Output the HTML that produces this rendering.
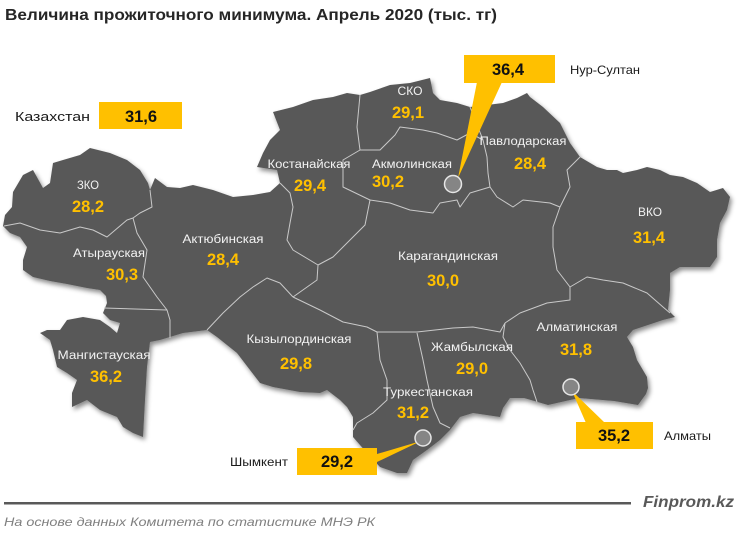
<!DOCTYPE html>
<html>
<head>
<meta charset="utf-8">
<style>
  html,body{margin:0;padding:0;background:#fff;}
  svg{display:block;}
</style>
</head>
<body>
<svg width="740" height="535" viewBox="0 0 740 535" xmlns="http://www.w3.org/2000/svg">
  <defs>
    <filter id="sh" x="-5%" y="-5%" width="115%" height="115%">
      <feDropShadow dx="2" dy="3" stdDeviation="2.5" flood-color="#000" flood-opacity="0.45"/>
    </filter>
  </defs>
  <rect width="740" height="535" fill="#fff"/>

  <!-- Title -->
  <text x="5" y="20" font-family="Liberation Sans, sans-serif" font-weight="bold" font-size="15.5" fill="#262626" textLength="492" lengthAdjust="spacingAndGlyphs">Величина прожиточного минимума. Апрель 2020  (тыс. тг)</text>

  <!-- Map -->
  <path filter="url(#sh)" fill="#585858" d="M90,148 L110,153 L127,160 L140,170 L148,183 L150,190 L155,178 L167,187 L180,188 L193,185 L213,190 L233,197 L253,195 L270,192 L280,183 L277,170 L257,167 L263,153 L270,140 L280,130 L273,112 L293,107 L313,100 L333,97 L347,93 L360,95 L370,92 L390,85 L410,83 L430,78 L433,93 L440,100 L457,103 L470,107 L487,105 L503,103 L517,98 L527,93 L530,97 L543,107 L560,123 L570,143 L580,157 L597,167 L607,170 L617,170 L623,173 L637,170 L647,167 L660,170 L670,175 L683,177 L697,183 L710,192 L723,188 L730,197 L727,210 L720,223 L717,240 L717,257 L710,267 L680,267 L670,273 L670,290 L668,310 L675,317 L663,320 L633,330 L627,337 L633,347 L637,360 L647,377 L648,388 L646,394 L638,405 L614,401 L579,398 L548,405 L524,398 L510,398 L503,408 L500,417 L473,413 L460,417 L450,430 L440,440 L427,450 L413,460 L407,473 L397,473 L380,467 L367,453 L353,437 L353,417 L347,407 L340,400 L327,390 L320,393 L300,392 L273,387 L260,383 L250,370 L237,353 L217,337 L207,330 L183,333 L160,340 L150,342 L147,367 L145,400 L143,437 L133,433 L123,427 L117,417 L100,410 L87,400 L72,407 L72,393 L77,380 L67,373 L57,367 L53,350 L50,340 L40,333 L47,330 L60,330 L67,320 L83,317 L100,320 L110,327 L117,333 L120,323 L110,320 L103,313 L107,303 L106,296 L100,290 L87,288 L67,284 L50,281 L33,277 L23,270 L23,260 L27,247 L20,237 L10,233 L3,226 L5,215 L12,207 L13,192 L23,175 L33,170 L43,188 L50,183 L53,163 L63,160 L80,155 Z"/>

  <!-- Region borders -->
  <g fill="none" stroke="#c9c9c9" stroke-width="1" stroke-linejoin="round">
    <polyline points="4,226 20,223 40,230 60,233 80,227 93,230 107,237 127,220 133,218"/>
    <polyline points="150,190 152,207 140,213 133,218"/>
    <polyline points="133,218 137,233 147,250 143,277 157,297 167,310 170,320 170,338"/>
    <polyline points="104,308 167,310"/>
    <polyline points="207,330 223,313 240,297 253,287 267,278 280,283 293,297"/>
    <polyline points="280,183 290,193 293,207 290,223 287,240 293,250 318,265"/>
    <polyline points="318,265 317,280 293,297"/>
    <polyline points="370,200 365,225 333,257 318,265"/>
    <polyline points="360,95 357,127 360,150 343,160 343,187 370,200"/>
    <polyline points="360,150 380,150 395,135 400,127 423,130 437,133 457,140 470,133 483,140"/>
    <polyline points="470,107 476,122 483,140"/>
    <polyline points="370,200 390,203 410,210 433,213 440,203 457,200 460,207 470,193 490,187"/>
    <polyline points="483,140 487,157 488,173 490,187"/>
    <polyline points="490,187 497,197 513,207 523,200 550,203 560,207"/>
    <polyline points="560,207 570,187 567,170 580,157"/>
    <polyline points="560,207 553,227 553,247 557,270 570,287"/>
    <polyline points="570,287 587,277 603,280 623,283 647,293 663,307 670,313"/>
    <polyline points="570,287 570,300 547,303 520,313 505,323"/>
    <polyline points="293,297 320,310 343,322 367,327 377,332 417,332 453,328 473,327 500,332 505,323"/>
    <polyline points="377,332 380,360 387,380 387,400 373,413 357,423 353,430"/>
    <polyline points="417,333 423,360 427,380 433,407 440,423 450,428"/>
    <polyline points="505,323 503,337 510,350 520,363 530,380 533,390 537,402"/>
  </g>

  <!-- Region names -->
  <g font-family="Liberation Sans, sans-serif" font-size="11.5" fill="#f2f2f2" text-anchor="middle">
    <text x="88" y="189" textLength="22" lengthAdjust="spacingAndGlyphs">ЗКО</text>
    <text x="109" y="257" textLength="72" lengthAdjust="spacingAndGlyphs">Атырауская</text>
    <text x="223" y="243" textLength="81" lengthAdjust="spacingAndGlyphs">Актюбинская</text>
    <text x="309" y="168" textLength="83" lengthAdjust="spacingAndGlyphs">Костанайская</text>
    <text x="410" y="95" textLength="25" lengthAdjust="spacingAndGlyphs">СКО</text>
    <text x="412" y="168" textLength="80" lengthAdjust="spacingAndGlyphs">Акмолинская</text>
    <text x="523" y="145" textLength="87" lengthAdjust="spacingAndGlyphs">Павлодарская</text>
    <text x="650" y="216" textLength="24" lengthAdjust="spacingAndGlyphs">ВКО</text>
    <text x="448" y="260" textLength="100" lengthAdjust="spacingAndGlyphs">Карагандинская</text>
    <text x="577" y="331" textLength="81" lengthAdjust="spacingAndGlyphs">Алматинская</text>
    <text x="472" y="351" textLength="82" lengthAdjust="spacingAndGlyphs">Жамбылская</text>
    <text x="299" y="343" textLength="105" lengthAdjust="spacingAndGlyphs">Кызылординская</text>
    <text x="428" y="396" textLength="90" lengthAdjust="spacingAndGlyphs">Туркестанская</text>
    <text x="104" y="359" textLength="93" lengthAdjust="spacingAndGlyphs">Мангистауская</text>
  </g>

  <!-- Region values -->
  <g font-family="Liberation Sans, sans-serif" font-size="16.5" font-weight="bold" fill="#FFC000" text-anchor="middle">
    <text x="88" y="212">28,2</text>
    <text x="122" y="280">30,3</text>
    <text x="223" y="265">28,4</text>
    <text x="310" y="191">29,4</text>
    <text x="408" y="118">29,1</text>
    <text x="388" y="187">30,2</text>
    <text x="530" y="169">28,4</text>
    <text x="649" y="243">31,4</text>
    <text x="443" y="286">30,0</text>
    <text x="576" y="355">31,8</text>
    <text x="472" y="374">29,0</text>
    <text x="296" y="369">29,8</text>
    <text x="413" y="418">31,2</text>
    <text x="106" y="382">36,2</text>
  </g>

  <!-- Callouts -->
  <polygon points="477,82 502,82 458,178" fill="#FFC000"/>
  <polygon points="377,454 377,462 421,441" fill="#FFC000"/>
  <polygon points="572,391 586,423 605,423" fill="#FFC000"/>

  <!-- City dots -->
  <g fill="#858585" stroke="#e6e6e6" stroke-width="1.5">
    <circle cx="453" cy="184" r="8.5"/>
    <circle cx="571" cy="387" r="8"/>
    <circle cx="423" cy="438" r="8"/>
  </g>

  <!-- Boxes -->
  <rect x="99" y="102" width="83" height="27" fill="#FFC000"/>
  <rect x="464" y="55" width="91" height="28" fill="#FFC000"/>
  <rect x="297" y="448" width="80" height="27" fill="#FFC000"/>
  <rect x="576" y="422" width="77" height="27" fill="#FFC000"/>

  <g font-family="Liberation Sans, sans-serif" font-size="16.5" font-weight="bold" fill="#111" text-anchor="middle">
    <text x="141" y="122">31,6</text>
    <text x="508" y="75">36,4</text>
    <text x="337" y="467">29,2</text>
    <text x="614" y="441">35,2</text>
  </g>

  <g font-family="Liberation Sans, sans-serif" font-size="12.5" fill="#1a1a1a">
    <text x="15" y="121" textLength="75" lengthAdjust="spacingAndGlyphs">Казахстан</text>
    <text x="570" y="74" textLength="70" lengthAdjust="spacingAndGlyphs" font-size="12">Нур-Султан</text>
    <text x="230" y="466" textLength="58" lengthAdjust="spacingAndGlyphs" font-size="12">Шымкент</text>
    <text x="664" y="440" textLength="47" lengthAdjust="spacingAndGlyphs" font-size="12">Алматы</text>
  </g>

  <!-- Footer -->
  <rect x="4" y="502" width="627" height="2.5" fill="#595959"/>
  <text x="643" y="507" font-family="Liberation Sans, sans-serif" font-size="16" font-weight="bold" font-style="italic" fill="#595959" textLength="91" lengthAdjust="spacingAndGlyphs">Finprom.kz</text>
  <text x="4" y="526" font-family="Liberation Sans, sans-serif" font-size="12" font-style="italic" fill="#7f7f7f" textLength="371" lengthAdjust="spacingAndGlyphs">На основе данных  Комитета по статистике МНЭ РК</text>
</svg>
</body>
</html>
